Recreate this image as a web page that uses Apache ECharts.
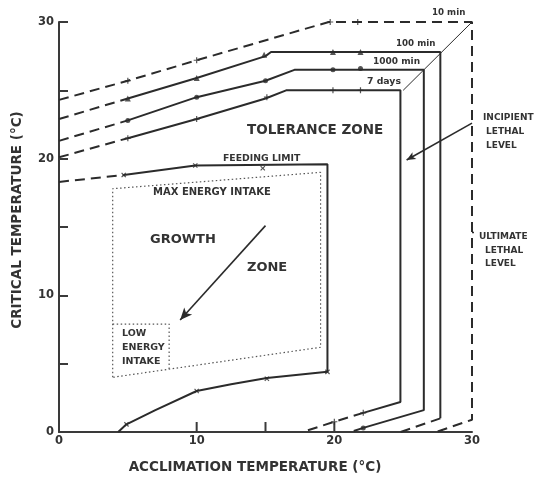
<!DOCTYPE html>
<html><head><meta charset="utf-8">
<script src="https://cdn.jsdelivr.net/npm/echarts@6/dist/echarts.min.js"></script>
<style>html,body{margin:0;padding:0;background:#fff}#c{width:538px;height:477px}</style>
</head><body><div id="c"></div>
<script>
// ---------- data ----------
const xTickLabels = [0, 10, 20, 30];
const yTickLabels = [0, 10, 20, 30];
const xTickMarks = [10, 15, 20];

// 10 min curve (all dashed)
const min10X = [0, 5, 10, 19.6, 30, 30, 27.4];
const min10Y = [24.3, 25.7, 27.2, 30, 30, 0.9, 0];
const min10MarkX = [5, 10, 19.7, 21.7];
const min10MarkY = [25.7, 27.2, 30, 30];

// 100 min curve
const min100DashX = [0, 5];
const min100DashY = [22.9, 24.4];
const min100X = [5, 10, 15, 15.4, 27.7, 27.7];
const min100Y = [24.4, 25.9, 27.5, 27.8, 27.8, 1.0];
const min100Dash2X = [27.7, 24.8];
const min100Dash2Y = [1.0, 0];
const min100MarkX = [5, 10, 14.9, 19.9, 21.9];
const min100MarkY = [24.4, 25.9, 27.6, 27.8, 27.8];

// 1000 min curve
const min1000DashX = [0, 5];
const min1000DashY = [21.3, 22.8];
const min1000X = [5, 10, 15, 17.1, 26.5, 26.5, 22.1];
const min1000Y = [22.8, 24.5, 25.7, 26.5, 26.5, 1.6, 0.3];
const min1000Dash2X = [22.1, 21.2];
const min1000Dash2Y = [0.3, 0];
const min1000MarkX = [5, 10, 15, 19.9, 21.9, 22.1];
const min1000MarkY = [22.8, 24.5, 25.7, 26.5, 26.6, 0.3];

// 7 days curve
const days7DashX = [0, 5];
const days7DashY = [20.1, 21.5];
const days7X = [5, 10, 15, 16.5, 24.8, 24.8, 22.1];
const days7Y = [21.5, 22.9, 24.4, 25.0, 25.0, 2.2, 1.4];
const days7Dash2X = [22.1, 20, 17.7];
const days7Dash2Y = [1.4, 0.75, 0];
const days7MarkX = [5, 10, 15.1, 19.9, 21.9, 22.1, 20];
const days7MarkY = [21.5, 22.9, 24.5, 25.0, 25.0, 1.4, 0.75];

// feeding limit
const feedDashX = [0, 4.7];
const feedDashY = [18.3, 18.8];
const feedX = [4.7, 9.9, 19.5, 19.5, 15.1, 12.5, 10, 7, 4.9, 4.3];
const feedY = [18.8, 19.5, 19.6, 4.4, 3.95, 3.5, 3.0, 1.6, 0.56, 0];
const feedMarkX = [4.7, 9.9, 14.8, 19.5, 15.1, 10, 4.9];
const feedMarkY = [18.8, 19.5, 19.3, 4.4, 3.9, 3.0, 0.56];

// max energy intake (dotted) and low energy intake box
const maxEnergyX = [3.9, 3.9, 19.0, 19.0, 3.9];
const maxEnergyY = [4.0, 17.8, 19.0, 6.2, 4.0];
const lowEnergyX = [3.9, 8.0, 8.0];
const lowEnergyY = [7.9, 7.9, 4.6];

// thin diagonal joining the curve corners
const cornerX = [25, 30];
const cornerY = [25, 30];

// arrows [from, to]
const growthArrow = [[15.0, 15.1], [8.8, 8.2]];
const incipientArrow = [[30, 22.6], [25.25, 19.9]];
const ultimateLeader = [[30, 14.6], [30.45, 14.6]];

// ---------- chart ----------
const pts = (xs, ys) => xs.map((x, i) => [x, ys[i]]);
const INK = '#2b2b2b';
const FONT = 'DejaVu Sans';
const DASH = [10, 6];

function line(xs, ys, dashed, extra) {
  return Object.assign({
    type: 'line', data: pts(xs, ys), showSymbol: false, symbol: 'none',
    clip: false, silent: true, animation: false, z: 3,
    lineStyle: { color: INK, width: 2, type: dashed ? DASH : 'solid' }
  }, extra || {});
}
const PLUS = 'path://M4,0h2v4h4v2h-4v4h-2v-4h-4v-2h4z';
function marks(xs, ys, symbol, size, rot) {
  return {
    type: 'scatter', data: pts(xs, ys), symbol: symbol, symbolSize: size,
    symbolRotate: rot || 0, clip: false, silent: true, animation: false, z: 4,
    itemStyle: { color: INK }
  };
}

const chart = echarts.init(document.getElementById('c'), null, { renderer: 'canvas' });

function txt(x, y, s, size, opts) {
  return Object.assign({
    type: 'text', x: x, y: y, silent: true,
    style: Object.assign({ text: s, fill: '#333', font: 'bold ' + size + 'px "' + FONT + '"',
      textAlign: 'left', textVerticalAlign: 'middle' }, (opts && opts.style) || {})
  }, opts && opts.rotation !== undefined ? { rotation: opts.rotation } : {});
}

const option = {
  animation: false,
  backgroundColor: '#fff',
  grid: { left: 59, top: 22, width: 413, height: 410, containLabel: false },
  xAxis: {
    type: 'value', min: 0, max: 30, interval: 10,
    axisLine: { show: true, onZero: false, lineStyle: { color: '#3a3a3a', width: 2 } },
    axisTick: { show: false }, splitLine: { show: false },
    axisLabel: { margin: 3, color: '#333', fontSize: 11.5, fontWeight: 'bold', fontFamily: FONT,
      formatter: v => xTickLabels.includes(v) ? String(v) : '' }
  },
  yAxis: {
    type: 'value', min: 0, max: 30, interval: 5,
    axisLine: { show: true, onZero: false, lineStyle: { color: '#3a3a3a', width: 2 } },
    axisTick: { show: true, inside: true, length: 9, lineStyle: { color: '#3a3a3a', width: 2 } },
    splitLine: { show: false },
    axisLabel: { margin: 5, color: '#333', fontSize: 11.5, fontWeight: 'bold', fontFamily: FONT,
      formatter: v => yTickLabels.includes(v) ? String(v) : '' }
  },
  series: [
    {
      type: 'custom', silent: true, animation: false, clip: false, z: 2,
      data: xTickMarks.map(v => [v, 0]),
      renderItem: (params, api) => {
        const p = api.coord([api.value(0), 0]);
        return { type: 'line', shape: { x1: p[0], y1: p[1], x2: p[0], y2: p[1] - 10 },
          style: { stroke: '#3a3a3a', lineWidth: 2 } };
      }
    },
    line(min10X, min10Y, true),
    marks(min10MarkX, min10MarkY, PLUS, 6),

    line(min100DashX, min100DashY, true),
    line(min100X, min100Y, false),
    line(min100Dash2X, min100Dash2Y, true),
    marks(min100MarkX, min100MarkY, 'triangle', 6),

    line(min1000DashX, min1000DashY, true),
    line(min1000X, min1000Y, false),
    line(min1000Dash2X, min1000Dash2Y, true),
    marks(min1000MarkX, min1000MarkY, 'circle', 5),

    line(days7DashX, days7DashY, true),
    line(days7X, days7Y, false),
    line(days7Dash2X, days7Dash2Y, true),
    marks(days7MarkX, days7MarkY, PLUS, 6),

    line(feedDashX, feedDashY, true),
    line(feedX, feedY, false),
    marks(feedMarkX, feedMarkY, PLUS, 6, 45),

    line(maxEnergyX, maxEnergyY, false, { lineStyle: { color: '#555', width: 1.2, type: [1.5, 2.5] } }),
    line(lowEnergyX, lowEnergyY, false, { lineStyle: { color: '#555', width: 1.2, type: [1.5, 2.5] } }),
    line(cornerX, cornerY, false, { lineStyle: { color: INK, width: 1 } }),
    line([ultimateLeader[0][0], ultimateLeader[1][0]], [ultimateLeader[0][1], ultimateLeader[1][1]], false,
      { lineStyle: { color: INK, width: 1.5 } }),
    {
      type: 'line', data: [], silent: true, animation: false,
      markLine: {
        silent: true, animation: false, symbol: ['none', 'arrow'], symbolSize: [8, 12],
        label: { show: false },
        lineStyle: { color: INK, width: 1.6, type: 'solid' },
        data: [
          [{ coord: growthArrow[0] }, { coord: growthArrow[1] }],
          [{ coord: incipientArrow[0] }, { coord: incipientArrow[1], symbolSize: [6, 9] }]
        ]
      }
    }
  ],
  graphic: [
    txt(247, 130, 'TOLERANCE ZONE', 13.5),
    txt(223, 159, 'FEEDING LIMIT', 9.3),
    txt(153, 192, 'MAX ENERGY INTAKE', 10),
    txt(150, 240, 'GROWTH', 13),
    txt(247, 268, 'ZONE', 13),
    txt(122, 334, 'LOW', 9.5),
    txt(122, 348, 'ENERGY', 9.5),
    txt(122, 362, 'INTAKE', 9.5),
    txt(432, 13, '10 min', 8.7),
    txt(396, 44, '100 min', 8.7),
    txt(373, 62, '1000 min', 9),
    txt(367, 82, '7 days', 9.3),
    txt(483, 118, 'INCIPIENT', 9),
    txt(486, 132, 'LETHAL', 9),
    txt(486, 146, 'LEVEL', 9),
    txt(479, 237, 'ULTIMATE', 9),
    txt(485, 251, 'LETHAL', 9),
    txt(485, 264, 'LEVEL', 9),
    txt(255, 467, 'ACCLIMATION TEMPERATURE (°C)', 13.5, { style: { textAlign: 'center' } }),
    txt(17, 220, 'CRITICAL TEMPERATURE (°C)', 13.5, { style: { textAlign: 'center' }, rotation: Math.PI / 2 })
  ]
};
chart.setOption(option);
</script>
</body></html>
